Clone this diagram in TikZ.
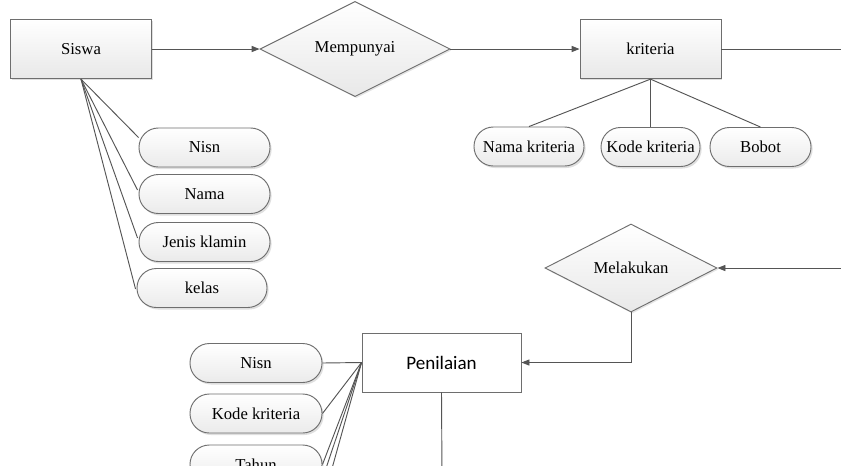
\documentclass[tikz,border=0pt]{standalone}
\usepackage{fontspec}
\setmainfont{Liberation Serif}
\newfontfamily\calib{Carlito}
\usetikzlibrary{shapes.geometric,arrows.meta,shadows,calc}

\definecolor{edge}{HTML}{6E6E6E}
\definecolor{wire}{HTML}{555555}

\tikzset{
  entity/.style={draw=edge, line width=0.7pt, top color=white, bottom color=black!9,
    minimum width=105.75pt, minimum height=44.5pt, inner sep=0pt,
    font=\fontsize{12.5}{14}\selectfont,
    drop shadow={shadow xshift=1pt, shadow yshift=-1.2pt, opacity=0.25}},
  plainbox/.style={draw=edge, line width=0.7pt, fill=white,
    minimum width=119.25pt, minimum height=44.25pt, inner sep=0pt,
    font=\calib\fontsize{14.3}{16}\selectfont},
  relation/.style={diamond, draw=edge, line width=0.7pt, top color=white, bottom color=black!9,
    inner sep=0pt, font=\fontsize{12.5}{14}\selectfont,
    drop shadow={shadow xshift=1pt, shadow yshift=-1.2pt, opacity=0.2}},
  attr/.style={draw=edge, line width=0.7pt, top color=white, bottom color=black!8,
    rounded corners=14.5pt, minimum height=29.25pt, inner sep=1pt,
    font=\fontsize{12.5}{14}\selectfont,
    drop shadow={shadow xshift=1.2pt, shadow yshift=-1.5pt, opacity=0.25}},
  link/.style={draw=wire, line width=0.7pt},
  flow/.style={draw=wire, line width=0.7pt, -{Triangle[length=6pt,width=4.6pt]}},
}

\begin{document}
\begin{tikzpicture}[x=0.75pt, y=-0.75pt]
\useasboundingbox (0,0) rectangle (841,465);
\clip (0,0) rectangle (841,465);
\fill[white] (0,0) rectangle (841,465);

% entities and relationships
\node[entity] (siswa) at (81,49) {Siswa};
\node[relation, minimum width=142.5pt, minimum height=59.25pt] (punya) at (355,49) {Mempunyai};
\node[entity] (krit) at (650.5,49) {kriteria};
\node[relation, minimum width=129pt, minimum height=66pt] (laku) at (631,268) {Melakukan};
\node[plainbox] (nilai) at (441.5,362.5) {Penilaian};

% attributes of Siswa
\node[attr, minimum width=98.25pt] (s1) at (204.5,147.5) {Nisn};
\node[attr, minimum width=98.25pt] (s2) at (204.5,194) {Nama};
\node[attr, minimum width=98.25pt] (s3) at (204.5,242) {Jenis klamin};
\node[attr, minimum width=97.5pt] (s4) at (202,288) {kelas};

% attributes of kriteria
\node[attr, minimum width=82.5pt, inner sep=0pt] (k1) at (529,146.5) {Nama kriteria};
\node[attr, minimum width=74.25pt, inner sep=0pt] (k2) at (650.5,147) {Kode kriteria};
\node[attr, minimum width=75.75pt] (k3) at (760.5,147) {Bobot};

% attributes of Penilaian
\node[attr, minimum width=99pt] (p1) at (256,363) {Nisn};
\node[attr, minimum width=99pt] (p2) at (256,413.5) {Kode kriteria};
\node[attr, minimum width=99pt] (p3) at (256,464.5) {Tahun};

% free ends of connectors that run past the edge
\coordinate (kout) at (845,49);
\coordinate (lin) at (845,268);
\coordinate (nout) at (442,480);
\coordinate (p4) at (318.7,490);
\coordinate (p5) at (326,490);

% relationship flow
\draw[flow] (siswa.east) -- (punya.west);
\draw[flow] (punya.east) -- (krit.west);
\draw[link] (krit.east) -- (kout);
\draw[flow] (lin) -- (laku.east);
\draw[flow] (laku.south) |- (nilai.east);
\draw[link] (nilai.south) -- (nout);

% attribute links
\draw[link] (siswa.south) -- ($(s1.west)+(0,-10)$);
\draw[link] (siswa.south) -- ($(s2.west)+(-1,-4)$);
\draw[link] (siswa.south) -- ($(s3.west)+(-1,-4)$);
\draw[link] (siswa.south) -- ($(s4.west)+(-1,1)$);

\draw[link] (krit.south) -- (k1.north);
\draw[link] (krit.south) -- (k2.north);
\draw[link] (krit.south) -- (k3.north);

\draw[link] (nilai.west) -- (p1.east);
\draw[link] (nilai.west) -- (p2.east);
\draw[link] (nilai.west) -- (p3.east);
\draw[link] (nilai.west) -- (p4);
\draw[link] (nilai.west) -- (p5);
\end{tikzpicture}
\end{document}
